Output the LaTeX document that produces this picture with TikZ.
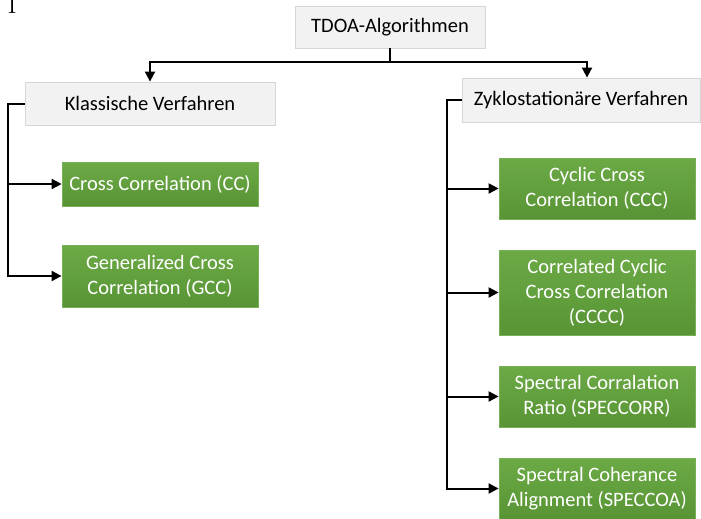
\documentclass[tikz,border=0pt]{standalone}
\usepackage{fontspec}
\newfontfamily\carlito{Carlito}
\usepackage{tikz}
\usetikzlibrary{positioning,arrows.meta}

\definecolor{headgray}{RGB}{242,242,242}
\definecolor{headline}{RGB}{214,214,214}
\definecolor{algolight}{RGB}{108,170,70}
\definecolor{algodark}{RGB}{88,148,52}
\definecolor{algoline}{RGB}{120,176,90}

\tikzset{
  head/.style={draw=headline, fill=headgray, line width=0.8pt, inner sep=0pt,
    font=\carlito\fontsize{20.5}{25}\selectfont, minimum height=43pt},
  algo/.style={draw=algoline, top color=algolight, bottom color=algodark, line width=0.8pt,
    text=white, align=center, inner sep=0pt, minimum width=196pt,
    font=\carlito\fontsize{20.5}{25}\selectfont},
  trunk/.style={line width=2pt},
  link/.style={trunk, -{Triangle[length=10pt,width=10pt]}}
}

\begin{document}
\begin{tikzpicture}[x=1pt, y=1pt]
\useasboundingbox (0,0) rectangle (701,-519);

%nodes
\node (pagemark) [anchor=base west, font=\fontsize{28}{28}\selectfont] at (4,-14) {I};

\node (tdoa) [head, minimum width=190pt, minimum height=42pt] at (390,-27) {TDOA-Algorithmen};
\node (klass) [head, minimum width=250pt] at (150,-103.5) {Klassische Verfahren};
\node (zyk) [head, minimum width=238pt, minimum height=44pt] at (581,-100) {Zyklostationäre Verfahren};

\node (cc) [algo, minimum height=44pt] at (160,-184) {Cross Correlation (CC)};
\node (gcc) [algo, below of=cc, node distance=92pt, minimum height=62pt] {Generalized Cross\\Correlation (GCC)};

\node (ccc) [algo, minimum height=61pt] at (597,-188.5) {Cyclic Cross\\Correlation (CCC)};
\node (cccc) [algo, below of=ccc, node distance=104pt, minimum height=85pt] {Correlated Cyclic\\Cross Correlation\\(CCCC)};
\node (speccorr) [algo, below of=cccc, node distance=104pt, minimum height=61pt] {Spectral Corralation\\Ratio (SPECCORR)};
\node (speccoa) [algo, below of=speccorr, node distance=92pt, minimum height=61pt] {Spectral Coherance\\Alignment (SPECCOA)};

%links
\draw[trunk] (tdoa.south) -- ++(0,-14) coordinate (bus);
\draw[link] (bus) -| (klass.north);
\draw[link] (bus) -| ([xshift=6pt]zyk.north);

\draw[link] (klass.west) -- ++(-17,0) |- (cc.west);
\draw[link] (klass.west) -- ++(-17,0) |- (gcc.west);

\draw[link] (zyk.west) -- ++(-15,0) |- (ccc.west);
\draw[link] (zyk.west) -- ++(-15,0) |- (cccc.west);
\draw[link] (zyk.west) -- ++(-15,0) |- (speccorr.west);
\draw[link] (zyk.west) -- ++(-15,0) |- (speccoa.west);
\end{tikzpicture}
\end{document}
